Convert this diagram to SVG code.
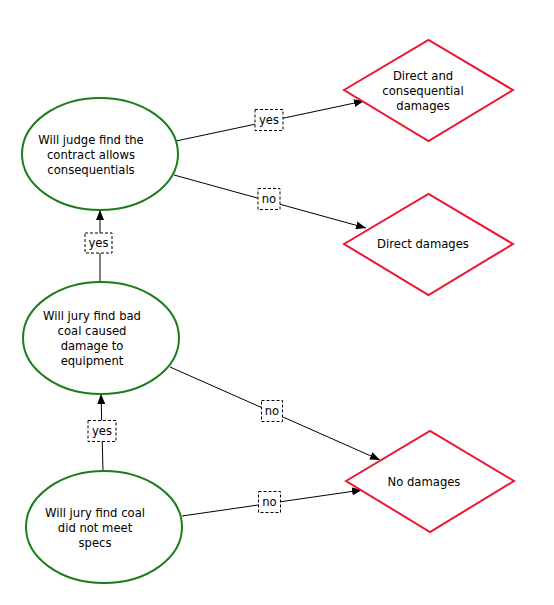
<svg xmlns="http://www.w3.org/2000/svg" width="554" height="605" viewBox="0 0 554 605">
<style>
.q{fill:#fff;stroke:#1b7d1b;stroke-width:2}
.o{fill:#fff;stroke:#ee1432;stroke-width:2}
.t{font-family:"DejaVu Sans",sans-serif;font-size:11.6px;fill:#000;text-anchor:middle}
.e{stroke:#000;stroke-width:1;fill:none;marker-end:url(#a)}
.lb{fill:#fff;stroke:#000;stroke-width:1;stroke-dasharray:3,2}
</style>
<defs>
<marker id="a" viewBox="0 0 10 8" refX="10" refY="4" markerWidth="10" markerHeight="8" markerUnits="userSpaceOnUse" orient="auto">
<path d="M0,0L10,4L0,8z" fill="#000"/>
</marker>
</defs>
<rect width="554" height="605" fill="#fff"/>
<g id="connectors">
<line class="e" x1="176" y1="141" x2="364" y2="101"/>
<line class="e" x1="174" y1="175" x2="366" y2="228"/>
<line class="e" x1="100" y1="282" x2="100" y2="210"/>
<line class="e" x1="103" y1="471" x2="101" y2="394"/>
<line class="e" x1="170" y1="367" x2="380" y2="460"/>
<line class="e" x1="182" y1="516" x2="362" y2="490"/>
<g id="labels">
<rect class="lb" x="255" y="109.5" width="28" height="21"/><text class="t" x="269" y="124">yes</text>
<rect class="lb" x="258" y="188.5" width="22" height="21"/><text class="t" x="269" y="203">no</text>
<rect class="lb" x="85" y="233" width="27" height="20"/><text class="t" x="98.5" y="247">yes</text>
<rect class="lb" x="88" y="420.5" width="28" height="21"/><text class="t" x="102" y="435">yes</text>
<rect class="lb" x="261.5" y="400.5" width="21" height="21"/><text class="t" x="272" y="415">no</text>
<rect class="lb" x="258.5" y="491.5" width="22" height="21"/><text class="t" x="269.5" y="506">no</text>
</g>
</g>
<g id="n1">
<ellipse class="q" cx="100" cy="154" rx="78" ry="56"/>
<text class="t" x="91" y="144">Will judge find the</text>
<text class="t" x="91" y="159">contract allows</text>
<text class="t" x="91" y="174">consequentials</text>
</g>
<g id="n2">
<ellipse class="q" cx="101" cy="338" rx="78" ry="56"/>
<text class="t" x="92" y="320">Will jury find bad</text>
<text class="t" x="92" y="335">coal caused</text>
<text class="t" x="92" y="350">damage to</text>
<text class="t" x="92" y="365">equipment</text>
</g>
<g id="n3">
<ellipse class="q" cx="104" cy="527" rx="78" ry="56"/>
<text class="t" x="95" y="517">Will jury find coal</text>
<text class="t" x="95" y="532">did not meet</text>
<text class="t" x="95" y="547">specs</text>
</g>
<g id="d1">
<polygon class="o" points="344,90 428.5,40 513,90 428.5,141"/>
<text class="t" x="423" y="80">Direct and</text>
<text class="t" x="423" y="95">consequential</text>
<text class="t" x="423" y="110">damages</text>
</g>
<g id="d2">
<polygon class="o" points="344,244 428.5,194 513,244 428.5,295"/>
<text class="t" x="423" y="248">Direct damages</text>
</g>
<g id="d3">
<polygon class="o" points="346,481 430,431 514,481 430,532"/>
<text class="t" x="424" y="486">No damages</text>
</g>
</svg>
